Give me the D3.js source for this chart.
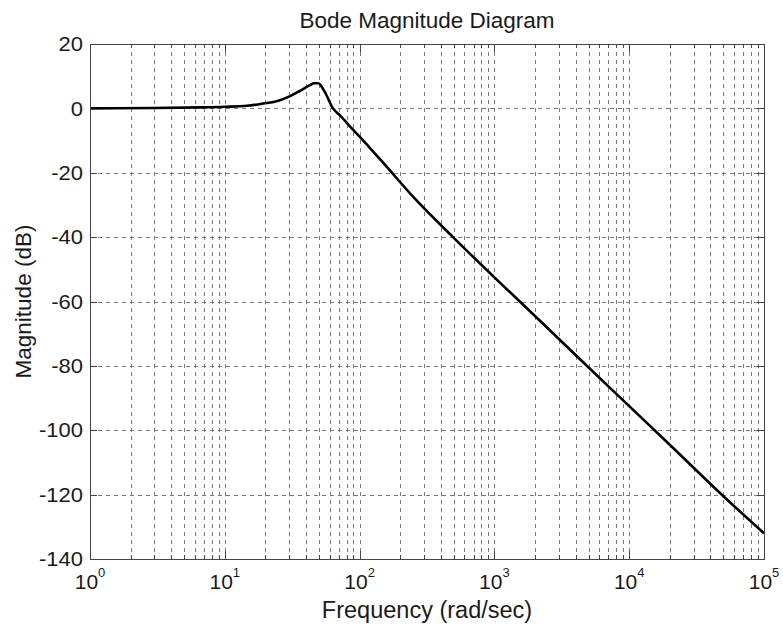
<!DOCTYPE html>
<html>
<head>
<meta charset="utf-8">
<script src="https://cdn.jsdelivr.net/npm/d3@7"></script>
<style>
  html, body { margin: 0; padding: 0; background: #fff; }
  text { font-family: "Liberation Sans", Arial, Helvetica, sans-serif; fill: #1a1a1a; }
</style>
</head>
<body>
<svg id="chart" width="783" height="627"></svg>
<script>
// ---- data ----
const freqs = [1, 3, 6.5, 10, 14.6, 19.2, 25, 30.5, 36, 42.8, 46, 49.3, 55, 63.5, 71.6, 87.9, 100, 126, 154, 250, 493, 1000, 2000, 5000, 10000, 20000, 50000, 100000];
const magDb = [0, 0.1, 0.3, 0.5, 0.8, 1.5, 2.4, 3.8, 5.4, 7.2, 7.8, 7.8, 5.2, 0, -2.2, -6.3, -8.8, -13.4, -17.5, -27.5, -40, -52.5, -64.5, -80.5, -92.5, -104.5, -120.5, -132];
const yTicks = [20, 0, -20, -40, -60, -80, -100, -120, -140];
const xDecadeExps = [0, 1, 2, 3, 4, 5];
const titleText = "Bode Magnitude Diagram";
const xLabelText = "Frequency (rad/sec)";
const yLabelText = "Magnitude (dB)";

// ---- layout ----
const svg = d3.select("#chart");
const L = 90, R = 764, T = 44, B = 559;

const x = d3.scaleLog().domain([1, 1e5]).range([L, R]);
const y = d3.scaleLinear().domain([-140, 20]).range([B, T]);

// minor tick positions (2..9 per decade)
const minorX = [];
for (let e = 0; e < 5; e++) for (let m = 2; m <= 9; m++) minorX.push(m * Math.pow(10, e));
const majorX = xDecadeExps.map(e => Math.pow(10, e));

// background
svg.append("rect").attr("x", 0).attr("y", 0).attr("width", 783).attr("height", 627).attr("fill", "#fff");

// grid
const grid = svg.append("g").attr("stroke", "#7a7a7a").attr("stroke-width", 1)
  .attr("stroke-dasharray", "4,4").attr("fill", "none");
grid.selectAll("line.vx").data(minorX.concat(majorX.slice(1, -1))).enter().append("line")
  .attr("x1", d => Math.round(x(d)) + 0.5).attr("x2", d => Math.round(x(d)) + 0.5)
  .attr("y1", T).attr("y2", B);
grid.selectAll("line.hy").data(yTicks.slice(1, -1)).enter().append("line")
  .attr("x1", L).attr("x2", R)
  .attr("y1", d => Math.round(y(d)) + 0.5).attr("y2", d => Math.round(y(d)) + 0.5);

// inward ticks on all four sides
const ticks = svg.append("g").attr("stroke", "#444").attr("stroke-width", 1);
const addX = (vals, len) => {
  vals.forEach(v => {
    const px = Math.round(x(v)) + 0.5;
    ticks.append("line").attr("x1", px).attr("x2", px).attr("y1", B).attr("y2", B - len);
    ticks.append("line").attr("x1", px).attr("x2", px).attr("y1", T).attr("y2", T + len);
  });
};
addX(minorX, 4);
addX(majorX, 8);
yTicks.forEach(v => {
  const py = Math.round(y(v)) + 0.5;
  ticks.append("line").attr("x1", L).attr("x2", L + 7).attr("y1", py).attr("y2", py);
  ticks.append("line").attr("x1", R).attr("x2", R - 7).attr("y1", py).attr("y2", py);
});

// curve
const line = d3.line().x(d => x(d[0])).y(d => y(d[1])).curve(d3.curveMonotoneX);
svg.append("path").datum(freqs.map((f, i) => [f, magDb[i]]))
  .attr("d", line).attr("fill", "none").attr("stroke", "#000")
  .attr("stroke-width", 2.6).attr("stroke-linejoin", "round");

// box
svg.append("rect").attr("x", L + 0.5).attr("y", T + 0.5).attr("width", R - L).attr("height", B - T)
  .attr("fill", "none").attr("stroke", "#444").attr("stroke-width", 1);

// y tick labels
svg.append("g").selectAll("text").data(yTicks).enter().append("text")
  .attr("x", L - 7).attr("y", d => y(d)).attr("dy", "0.36em")
  .attr("text-anchor", "end").attr("font-size", 20)
  .attr("transform", d => `translate(${L - 7},0) scale(1.1,1) translate(${-(L - 7)},0)`)
  .text(d => d);

// x tick labels (10^n)
const xl = svg.append("g").selectAll("text").data(xDecadeExps).enter().append("text")
  .attr("x", d => x(Math.pow(10, d))).attr("y", 589)
  .attr("text-anchor", "middle").attr("font-size", 21);
xl.append("tspan").text("10");
xl.append("tspan").attr("font-size", 13).attr("dy", -12).text(d => d);

// title
svg.append("text").attr("x", (L + R) / 2).attr("y", 28).attr("text-anchor", "middle")
  .attr("font-size", 22.5).text(titleText);

// x label
svg.append("text").attr("x", (L + R) / 2).attr("y", 618).attr("text-anchor", "middle")
  .attr("font-size", 23.5).text(xLabelText);

// y label
svg.append("text").attr("transform", `translate(31,${(T + B) / 2}) rotate(-90)`)
  .attr("text-anchor", "middle").attr("font-size", 22.5).text(yLabelText);
</script>
</body>
</html>
